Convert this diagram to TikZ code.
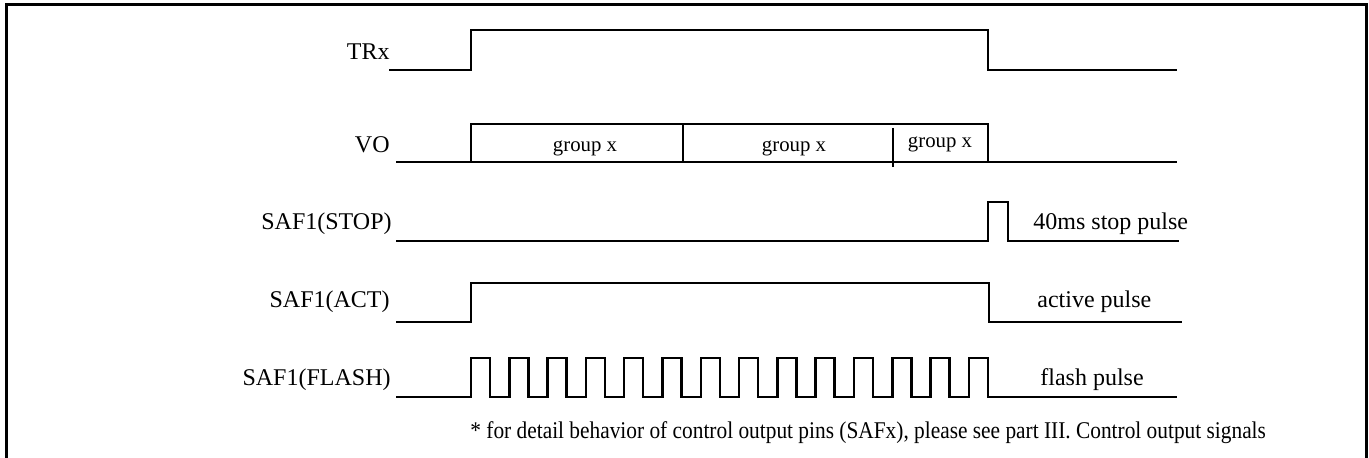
\documentclass[tikz,border=0pt]{standalone}
\usepackage{fontspec}
\setmainfont{Liberation Serif}

\begin{document}
\begin{tikzpicture}[x=0.5pt, y=-0.5pt,
    wave/.style={line width=1.25pt},
    signame/.style={anchor=base east, inner sep=0pt, font=\fontsize{12}{14}\selectfont},
    pulsename/.style={anchor=base west, inner sep=0pt, font=\fontsize{12}{14}\selectfont},
    grouptext/.style={anchor=base, inner sep=0pt, font=\fontsize{10.4}{12}\selectfont}]
      \useasboundingbox (0,0) rectangle (1369,458);
      \draw [line width=1.5pt] (6,458) -- (6,5) -- (1366,5) -- (1366,458);

      % signal names
      \node [signame] (trx) at (390,60) {TRx};
      \node [signame] (vo) at (390,153) {VO};
      \node [signame] (stop) at (392,230) {SAF1(STOP)};
      \node [signame] (act) at (390,308) {SAF1(ACT)};
      \node [signame] (flash) at (391,386) {SAF1(FLASH)};

      % TRx
      \draw [wave] (389,70) -- (471,70) -- (471,30) -- (988,30) -- (988,70) -- (1177,70);

      % VO
      \draw [wave] (396,162) -- (1177,162);
      \draw [wave] (471,162) -- (471,124) -- (988,124) -- (988,162);
      \draw [wave] (683,124) -- (683,162);
      \draw [wave] (893,128) -- (893,167);
      \node [grouptext] (g1) at (585,152) {group x};
      \node [grouptext] (g2) at (794,152) {group x};
      \node [grouptext] (g3) at (940,148) {group x};

      % SAF1(STOP)
      \draw [wave] (396,241) -- (988,241) -- (988,202) -- (1008,202) -- (1008,241) -- (1179,241);
      \node [pulsename] (stopnote) at (1033,230) {40ms stop pulse};

      % SAF1(ACT)
      \draw [wave] (396,322) -- (471,322) -- (471,283) -- (989,283) -- (989,322) -- (1182,322);
      \node [pulsename] (actnote) at (1037,308) {active pulse};

      % SAF1(FLASH)
      \draw [wave] (396,397)
        foreach \k in {0,...,13} {
          -- ({471+38.3*\k},397) -- ({471+38.3*\k},358)
          -- ({490+38.3*\k},358) -- ({490+38.3*\k},397)
        } -- (1177,397);
      \node [pulsename] (flashnote) at (1040,386) {flash pulse};

      \node [anchor=base west, inner sep=0pt, font=\fontsize{12}{14}\selectfont] (remark) at (470,438)
        {\scalebox{0.89}[1]{* for detail behavior of control output pins (SAFx), please see part III. Control output signals}};
\end{tikzpicture}
\end{document}
